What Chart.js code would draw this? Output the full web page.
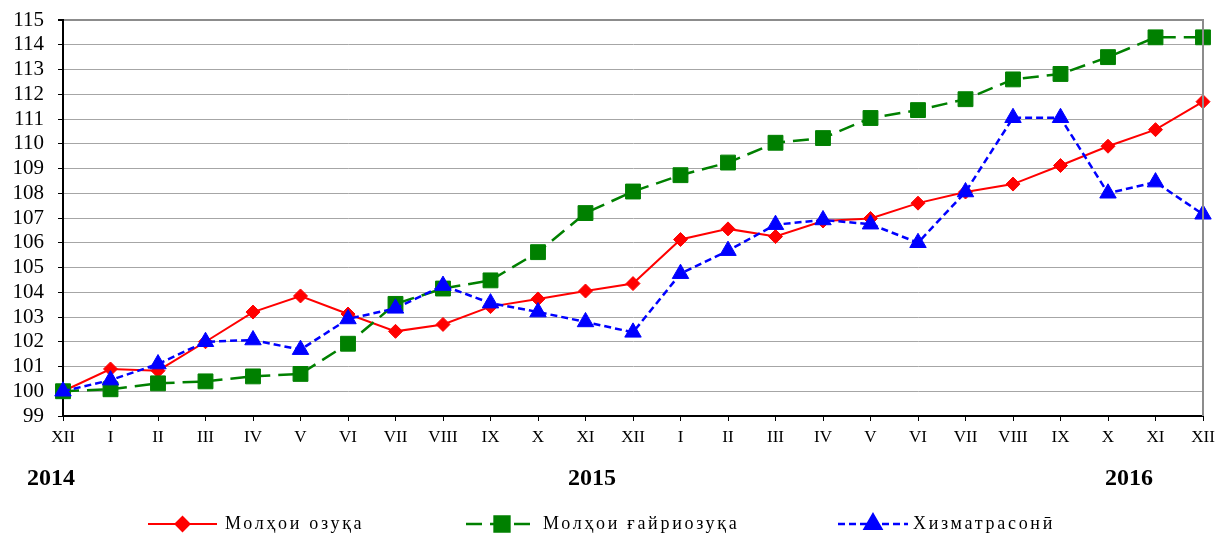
<!DOCTYPE html>
<html>
<head>
<meta charset="utf-8">
<script src="https://cdn.jsdelivr.net/npm/chart.js@4.4.1/dist/chart.umd.min.js"></script>
<style>
body { margin: 0; background: #fff; }
canvas { display: block; }
</style>
</head>
<body>
<canvas id="chart" width="1216" height="535"></canvas>
<script>
var months = ['XII', 'I', 'II', 'III', 'IV', 'V', 'VI', 'VII', 'VIII', 'IX', 'X', 'XI', 'XII', 'I', 'II', 'III', 'IV', 'V', 'VI', 'VII', 'VIII', 'IX', 'X', 'XI', 'XII'];
var years = ['2014', '2015', '2016'];
var names = ['Молҳои озуқа', 'Молҳои ғайриозуқа', 'Хизматрасонӣ'];

var food = [100, 100.9, 100.83, 102.0, 103.2, 103.85, 103.12, 102.42, 102.7, 103.42, 103.73, 104.05, 104.35, 106.13, 106.56, 106.25, 106.88, 106.98, 107.6, 108.05, 108.37, 109.12, 109.9, 110.57, 111.7];
var nonFood = [100, 100.08, 100.32, 100.4, 100.6, 100.7, 101.92, 103.53, 104.15, 104.48, 105.62, 107.2, 108.07, 108.73, 109.24, 110.04, 110.23, 111.04, 111.36, 111.8, 112.6, 112.82, 113.5, 114.3, 114.3];
var services = [100, 100.45, 101.1, 102.0, 102.07, 101.68, 102.92, 103.35, 104.27, 103.56, 103.2, 102.8, 102.38, 104.75, 105.68, 106.73, 106.92, 106.75, 106.0, 108.05, 111.05, 111.05, 108.0, 108.45, 107.15];

var serif = '"Liberation Serif", "Times New Roman", serif';

// year captions and legend are drawn here (positions only)
var extras = {
	id: 'extras',
	afterDraw: function(chart) {
		var ctx = chart.ctx;
		var area = chart.chartArea;
		ctx.save();

		// right frame line
		ctx.strokeStyle = '#8c8c8c';
		ctx.lineWidth = 2;
		ctx.beginPath();
		ctx.moveTo(area.right, area.top - 1);
		ctx.lineTo(area.right, area.bottom);
		ctx.stroke();

		ctx.fillStyle = '#000';
		ctx.font = 'bold 24px ' + serif;
		ctx.textAlign = 'center';
		ctx.textBaseline = 'middle';
		var yx = [51, 592, 1129];
		years.forEach(function(y, i) { ctx.fillText(y, yx[i], 479); });

		var items = [{x: 148, w: 69, tx: 225}, {x: 466, w: 72, tx: 543}, {x: 838, w: 70, tx: 913}];
		var ly = 524;
		chart.data.datasets.forEach(function(ds, i) {
			var it = items[i];
			ctx.strokeStyle = ds.borderColor;
			ctx.fillStyle = ds.borderColor;
			ctx.lineWidth = ds.borderWidth;
			ctx.setLineDash(ds.borderDash || []);
			ctx.beginPath();
			ctx.moveTo(it.x, ly);
			ctx.lineTo(it.x + it.w, ly);
			ctx.stroke();
			ctx.setLineDash([]);
			Chart.helpers.drawPoint(ctx, {pointStyle: ds.pointStyle, radius: ds.pointRadius, rotation: 0, borderWidth: 1}, it.x + it.w / 2, ly);

			ctx.fillStyle = '#000';
			ctx.font = '18px ' + serif;
			ctx.textAlign = 'left';
			ctx.letterSpacing = '2.7px';
			ctx.fillText(ds.label, it.tx, ly);
			ctx.letterSpacing = '0px';
		});
		ctx.restore();
	}
};

var ctx = document.getElementById('chart').getContext('2d');

var chart = new Chart(ctx, {
	type: 'line',
	data: {
		labels: months,
		datasets: [{
			label: names[0],
			data: food,
			borderColor: '#ff0000',
			backgroundColor: '#ff0000',
			borderWidth: 2,
			pointStyle: 'rectRot',
			pointRadius: 7,
			pointBorderWidth: 1,
			order: 2
		}, {
			label: names[1],
			data: nonFood,
			borderColor: '#008000',
			backgroundColor: '#008000',
			borderWidth: 2.5,
			borderDash: [16, 8],
			pointStyle: 'rect',
			pointRadius: 10.5,
			pointBorderWidth: 1,
			order: 1
		}, {
			label: names[2],
			data: services,
			borderColor: '#0000ff',
			backgroundColor: '#0000ff',
			borderWidth: 2.5,
			borderDash: [7, 4],
			pointStyle: 'triangle',
			pointRadius: 9.5,
			pointBorderWidth: 1,
			order: 0
		}]
	},
	options: {
		responsive: false,
		animation: false,
		layout: {
			autoPadding: false,
			padding: {top: 20, right: 13, bottom: 0, left: 0}
		},
		plugins: {
			legend: {display: false},
			tooltip: {enabled: false}
		},
		scales: {
			x: {
				offset: false,
				grid: {drawOnChartArea: false, tickLength: 5, tickColor: '#000', tickWidth: 1},
				border: {color: '#000', width: 2},
				ticks: {color: '#000', font: {family: serif, size: 17}, padding: 6, maxRotation: 0, autoSkip: false},
				afterFit: function(s) { s.height = 119; s.paddingLeft = 0; s.paddingRight = 0; }
			},
			y: {
				min: 99,
				max: 115,
				ticks: {stepSize: 1, autoSkip: false, color: '#000', font: {family: serif, size: 21}, padding: 14},
				grid: {
					color: function(c) { return c.tick && c.tick.value === 115 ? '#8c8c8c' : '#a6a6a6'; },
					lineWidth: function(c) { return c.tick && c.tick.value === 115 ? 2 : 1; },
					tickLength: 5,
					tickColor: '#000'
				},
				border: {color: '#000', width: 2},
				afterFit: function(s) { s.width = 63; s.paddingTop = 0; s.paddingBottom = 0; }
			}
		}
	},
	plugins: [extras]
});
</script>
</body>
</html>
